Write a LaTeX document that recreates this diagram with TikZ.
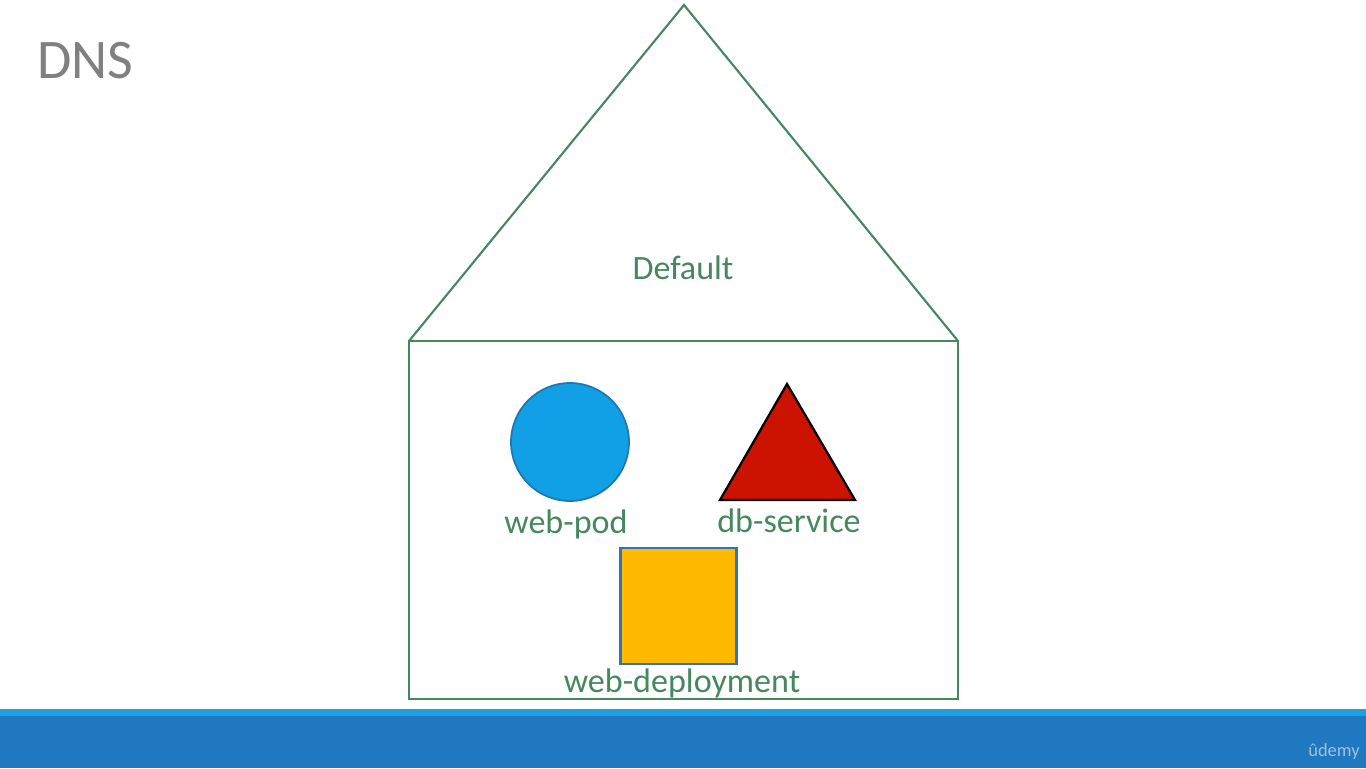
\documentclass[tikz,border=0pt]{standalone}
\usepackage{fontspec}
\setmainfont{Carlito}
\definecolor{nsgreen}{RGB}{70,136,94}
\definecolor{podblue}{RGB}{17,160,230}
\definecolor{podedge}{RGB}{30,120,175}
\definecolor{svcred}{RGB}{204,18,0}
\definecolor{depyellow}{RGB}{255,185,0}
\definecolor{depedge}{RGB}{46,117,182}
\definecolor{barlight}{RGB}{27,161,226}
\definecolor{bardark}{RGB}{31,120,192}
\definecolor{titlegray}{RGB}{128,128,128}
\definecolor{logogray}{RGB}{160,192,220}

\begin{document}
\begin{tikzpicture}[x=0.02cm, y=-0.02cm,
    nslabel/.style={text=nsgreen, font=\fontsize{19.4}{23}\selectfont, anchor=base, inner sep=0pt},
    nsline/.style={draw=nsgreen, line width=1.2pt}]
            \useasboundingbox (0,0) rectangle (1366,768);

            % bottom bar
            \fill[bardark] (0,716) rectangle (1366,768);
            \fill[barlight] (0,709) rectangle (1366,716);
            \node[text=logogray, font=\fontsize{10.5}{12}\selectfont, anchor=base] (logo) at (1334,756) {ûdemy};

            \node[text=titlegray, font=\fontsize{31.8}{36}\selectfont, anchor=base] (title) at (85.5,78) {DNS};

            % the namespace house
            \coordinate (apex) at (684,5);
            \coordinate (eaveL) at (409,341);
            \coordinate (eaveR) at (958,341);
            \coordinate (floorL) at (409,699);
            \coordinate (floorR) at (958,699);
            \draw[nsline, line join=miter] (eaveL) -- (apex) -- (eaveR);
            \draw[nsline] (eaveL) rectangle (floorR);
            \node[nslabel] (default) at (683,279) {Default};

            % objects
            \node[circle, fill=podblue, draw=podedge, line width=1pt, minimum size=2.36cm, inner sep=0pt] (pod) at (570,442) {};
            \node[nslabel] (podlabel) at (566,533) {web-pod};

            \coordinate (svctop) at (787,384);
            \coordinate (svcleft) at (720,500);
            \coordinate (svcright) at (855,500);
            \filldraw[fill=svcred, draw=black, line width=1.3pt, line join=miter] (svctop) -- (svcleft) -- (svcright) -- cycle;
            \node[nslabel] (svclabel) at (789,532) {db-service};

            \node[rectangle, fill=depyellow, draw=depedge, line width=1.2pt, minimum size=2.32cm, inner sep=0pt] (deploy) at (678.5,606) {};
            \node[nslabel] (deploylabel) at (682,692) {web-deployment};
        \end{tikzpicture}
\end{document}
